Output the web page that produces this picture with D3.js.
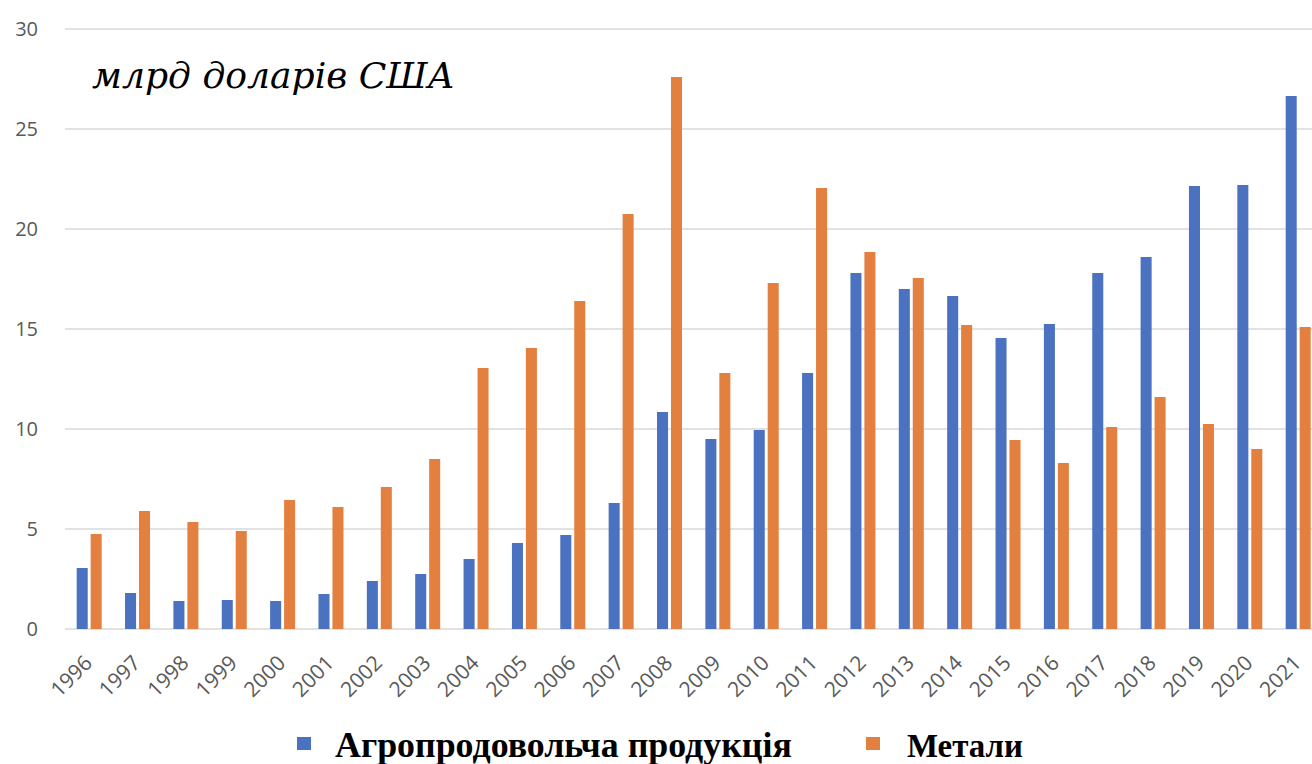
<!DOCTYPE html>
<html>
<head>
<meta charset="utf-8">
<script src="https://cdn.jsdelivr.net/npm/d3@7"></script>
<style>
  body { margin: 0; background: #fff; }
  svg { display: block; }
</style>
</head>
<body>
<svg id="chart" width="1312" height="764"></svg>
<script>
// data (billion USD)
var years = ["1996","1997","1998","1999","2000","2001","2002","2003","2004","2005","2006","2007","2008",
             "2009","2010","2011","2012","2013","2014","2015","2016","2017","2018","2019","2020","2021"];
var agro = [3.05, 1.8, 1.4, 1.45, 1.4, 1.75, 2.4, 2.75, 3.5, 4.3, 4.7, 6.3, 10.85,
            9.5, 9.95, 12.8, 17.8, 17.0, 16.65, 14.55, 15.25, 17.8, 18.6, 22.15, 22.2, 26.65];
var metals = [4.75, 5.9, 5.35, 4.9, 6.45, 6.1, 7.1, 8.5, 13.05, 14.05, 16.4, 20.75, 27.6,
              12.8, 17.3, 22.05, 18.85, 17.55, 15.2, 9.45, 8.3, 10.1, 11.6, 10.25, 9.0, 15.1];
var seriesNames = ["Агропродовольча продукція", "Метали"];
var seriesColors = ["#4A72C0", "#E3803F"];
var yTicks = [0, 5, 10, 15, 20, 25, 30];

var svg = d3.select("#chart");
var left = 65, step = 48.36;

var x = d3.scaleBand()
    .domain(years)
    .range([left, left + step * years.length])
    .padding(0);

var y = d3.scaleLinear()
    .domain([0, 30])
    .range([629, 29]);

var x1 = d3.scaleBand()
    .domain([0, 1])
    .range([x.bandwidth() / 2 - 12.5, x.bandwidth() / 2 + 12.5])
    .paddingInner(0.21);

// gridlines
svg.append("g")
    .selectAll("line")
    .data(yTicks)
    .join("line")
    .attr("x1", left)
    .attr("x2", 1312)
    .attr("y1", function(d) { return y(d); })
    .attr("y2", function(d) { return y(d); })
    .style("stroke", "#d9d9d9")
    .style("stroke-width", 1.5);

// y labels
svg.append("g")
    .selectAll("text")
    .data(yTicks)
    .join("text")
    .attr("x", 38)
    .attr("y", function(d) { return y(d); })
    .attr("dy", "0.35em")
    .attr("text-anchor", "end")
    .style("font-family", "'Open Sans', sans-serif")
    .style("font-size", "20px")
    .style("fill", "#595959")
    .text(function(d) { return d; });

// bars
var rows = years.map(function(yr, i) { return {year: yr, vals: [agro[i], metals[i]]}; });
var groups = svg.append("g")
    .selectAll("g")
    .data(rows)
    .join("g")
    .attr("transform", function(d) { return "translate(" + x(d.year) + ",0)"; });

groups.selectAll("rect")
    .data(function(d) { return d.vals.map(function(v, k) { return {k: k, v: v}; }); })
    .join("rect")
    .attr("x", function(d) { return x1(d.k); })
    .attr("width", x1.bandwidth())
    .attr("y", function(d) { return y(d.v); })
    .attr("height", function(d) { return y(0) - y(d.v); })
    .style("fill", function(d) { return seriesColors[d.k]; });

// x labels
svg.append("g")
    .selectAll("text")
    .data(years)
    .join("text")
    .attr("transform", function(d) {
        return "translate(" + (x(d) + x.bandwidth() / 2 - 1) + ",659) rotate(-45)";
    })
    .attr("dy", "0.35em")
    .attr("text-anchor", "end")
    .style("font-family", "'Open Sans', sans-serif")
    .style("font-size", "21px")
    .style("fill", "#595959")
    .text(function(d) { return d; });

// shrink/grow a text to a target width
function fitWidth(sel, target) {
    var fs = parseFloat(sel.style("font-size"));
    var w = sel.node().getComputedTextLength();
    sel.style("font-size", (fs * target / w) + "px");
}

// unit label
var unit = svg.append("text")
    .attr("x", 92)
    .attr("y", 88)
    .style("font-family", "'DejaVu Serif', serif")
    .style("font-style", "italic")
    .style("font-size", "36px")
    .style("fill", "#000")
    .text("млрд доларів США");
fitWidth(unit, 363);

// legend
var legendX = [297, 866];
var legendW = [457, 116];
var legend = svg.append("g")
    .selectAll("g")
    .data(seriesNames)
    .join("g")
    .attr("transform", function(d, i) { return "translate(" + legendX[i] + ",0)"; });

legend.append("rect")
    .attr("x", 0)
    .attr("y", 737)
    .attr("width", 14)
    .attr("height", 13)
    .style("fill", function(d, i) { return seriesColors[i]; });

legend.append("text")
    .attr("x", function(d, i) { return i === 0 ? 38 : 41; })
    .attr("y", 757)
    .style("font-family", "'Liberation Serif', serif")
    .style("font-weight", "bold")
    .style("font-size", "34px")
    .style("fill", "#000")
    .text(function(d) { return d; })
    .each(function(d, i) { fitWidth(d3.select(this), legendW[i]); });
</script>
</body>
</html>
